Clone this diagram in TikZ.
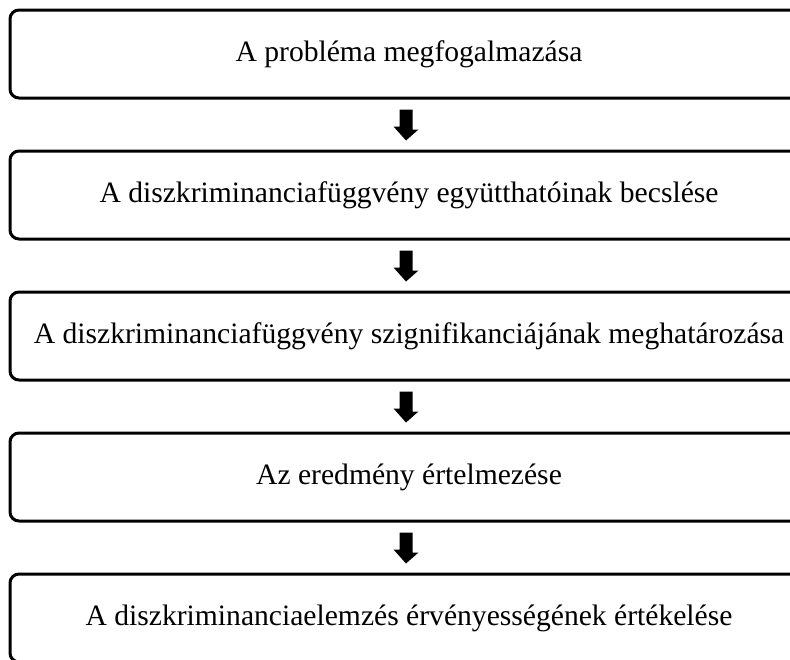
\documentclass[tikz,border=0pt]{standalone}
\usepackage{fontspec}
\setmainfont{Liberation Serif}
\usetikzlibrary{calc}
\tikzset{
  stepbox/.style={draw=black, line width=3pt, rounded corners=9pt,
    minimum width=798pt, minimum height=88pt, inner sep=0pt,
    font=\fontsize{29.6pt}{34pt}\selectfont},
  downarrow/.style={fill=black, draw=none}
}
\begin{document}
\begin{tikzpicture}[x=1pt,y=-1pt]
  \useasboundingbox (0,0) rectangle (790,659);
  \node[stepbox] (b1) at (409,54)  {A probléma megfogalmazása};
  \node[stepbox] (b2) at (409,195) {A diszkriminanciafüggvény együtthatóinak becslése};
  \node[stepbox] (b3) at (409,336) {A diszkriminanciafüggvény szignifikanciájának meghatározása};
  \node[stepbox] (b4) at (409,477) {Az eredmény értelmezése};
  \node[stepbox] (b5) at (409,618) {A diszkriminanciaelemzés érvényességének értékelése};
  % block arrows between consecutive steps
  \foreach \a/\b in {b1/b2, b2/b3, b3/b4, b4/b5}{
    \fill[downarrow] ($(\a.south)+(-9.5,10)$) -- ++(13,0) -- ++(0,20) -- ++(6,0)
      -- ($(\b.north)+(-3,-9)$) -- ++(-12.5,-14) -- ++(6,0) -- cycle;
  }
\end{tikzpicture}
\end{document}
